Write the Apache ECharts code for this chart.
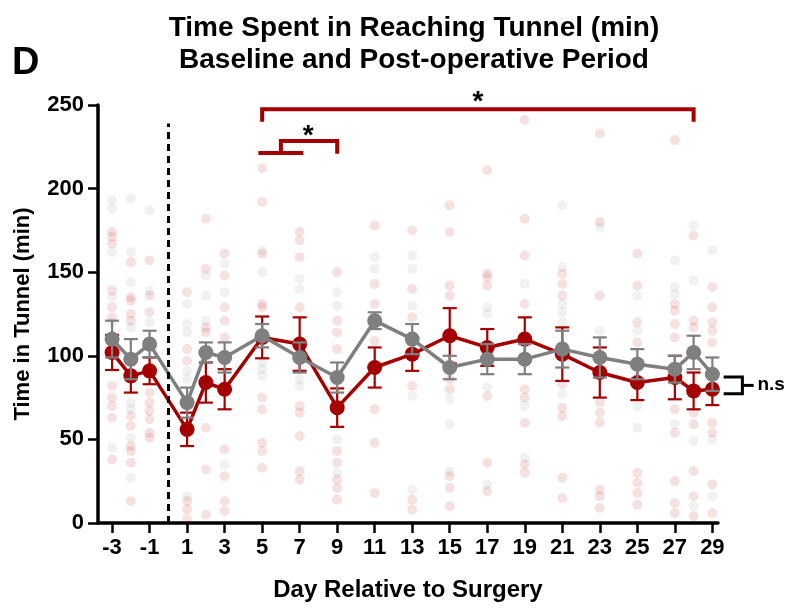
<!DOCTYPE html>
<html>
<head>
<meta charset="utf-8">
<script src="https://cdn.jsdelivr.net/npm/echarts@6/dist/echarts.min.js"></script>
<style>
  html, body { margin: 0; padding: 0; background: #fff; }
  #chart { width: 793px; height: 608px; }
</style>
</head>
<body>
<div id="chart"></div>
<script>
// Days relative to surgery (day 0 = surgery)
const days = [-3, -2, -1, 1, 2, 3, 5, 7, 9, 11, 13, 15, 17, 19, 21, 23, 25, 27, 28, 29];
const dayTicks = [-3, -1, 1, 3, 5, 7, 9, 11, 13, 15, 17, 19, 21, 23, 25, 27, 29];
const yTicks = [0, 50, 100, 150, 200, 250];

// Group means and SEM (minutes)
const redMean  = [102, 88, 91, 56, 84, 80, 111, 107, 69, 93, 101, 112, 105, 110, 101, 90, 84, 87, 79, 80];
const redSem   = [10.5, 10, 8, 10, 12, 12, 12.5, 16, 11.5, 12, 10, 16.5, 11, 13, 16, 15, 10.5, 13, 11, 9.5];
const grayMean = [110, 98, 107, 72, 102, 99, 112, 99, 87, 121, 110, 93, 98, 98, 104, 99, 95, 92, 102, 89];
const graySem  = [11, 12, 8, 9, 6, 9, 7, 9, 9, 5, 9, 7, 9, 9, 11, 12, 9, 8, 10, 10];

// Individual animals, one list per day (same order as `days`)
const redDots = [
  [174, 171, 167, 139, 129, 123, 82, 75, 70, 63, 38],
  [156, 135, 133, 125, 121, 64, 58, 46, 43, 36, 13],
  [157, 136, 126, 78, 72, 67, 62, 54, 51],
  [138, 104, 97, 13, 8, 2],
  [182, 152, 117, 114, 57, 32, 5],
  [161, 148, 129, 121, 111, 44, 28, 13, 7],
  [212, 192, 161, 131, 129, 75, 68, 48, 43, 33],
  [174, 169, 159, 129, 70, 66, 52, 31, 26],
  [150, 121, 114, 104, 43, 36, 26, 21, 14],
  [178, 143, 131, 109, 68, 48, 18],
  [175, 140, 123, 82, 14, 8],
  [190, 174, 142, 136, 86, 80, 28, 21, 10],
  [211, 149, 147, 142, 76, 36, 19],
  [241, 182, 160, 131, 80, 75, 60, 35, 30],
  [149, 143, 136, 83, 69, 64, 27, 15],
  [233, 180, 136, 72, 66, 60, 20, 16, 9],
  [161, 142, 120, 108, 30, 24, 18, 11],
  [229, 131, 127, 119, 111, 68, 54, 25, 12, 6],
  [172, 121, 117, 66, 59, 31, 16, 4],
  [141, 129, 120, 115, 108, 60, 54, 23, 6]
];
const grayDots = [
  [193, 188, 162, 135, 120, 45],
  [194, 162, 144, 117, 72, 68, 51, 27],
  [187, 139, 120],
  [131, 119, 114, 91, 86, 16],
  [148, 136, 121],
  [155, 138, 35],
  [163, 150, 96, 92, 88],
  [146, 140, 92, 86, 82],
  [138, 130, 50, 30],
  [159, 152],
  [160, 152, 130, 76, 20],
  [74, 59, 31],
  [129, 125, 81, 23],
  [143, 70, 39],
  [190, 153, 131, 126, 120, 77],
  [177, 115],
  [136, 115, 70, 57],
  [157, 141, 137, 59],
  [178, 145, 49, 10],
  [163, 50, 16]
];

const RED = '#a50000';
const GRAY = '#7f7f7f';
const FONT = '"Liberation Sans", Arial, Helvetica, sans-serif';

// Surgery marker (day 0), drawn up to this height in minutes
const surgeryDay = 0;
const surgeryLineTop = 239;

// Significance brackets in data units (day, minutes)
const paths = [
  { pts: [[5, 240], [5, 247.5], [28, 247.5], [28, 240]], color: RED, width: 4 },  // day 5 vs day 28
  { pts: [[4.8, 221.3], [7.2, 221.3]], color: RED, width: 4 },                    // days 5-7
  { pts: [[6, 221.3], [6, 228.5], [9, 228.5], [9, 220.8]], color: RED, width: 4 },// vs day 9
  { pts: [[29.6, 87.3], [30.6, 87.3], [30.6, 77.3], [29.6, 77.3]], color: '#000', width: 3 },
  { pts: [[30.6, 82.3], [31.2, 82.3]], color: '#000', width: 3 }
];
const notes = [
  { at: [16.5, 251.5], text: '*', size: 28, align: 'center' },
  { at: [7.45, 231.5], text: '*', size: 28, align: 'center' },
  { at: [31.4, 82.5], text: 'n.s', size: 19, align: 'left' }
];

function dotData(lists) {
  const out = [];
  lists.forEach((vals, i) => vals.forEach(v => out.push([days[i], v])));
  return out;
}
function pairs(mean) { return days.map((d, i) => [d, mean[i]]); }
function errData(mean, sem) { return days.map((d, i) => [d, mean[i] - sem[i], mean[i] + sem[i]]); }

function errorBars(color) {
  return function (params, api) {
    const x = api.value(0);
    const lo = api.coord([x, api.value(1)]);
    const hi = api.coord([x, api.value(2)]);
    const w = 7;
    const style = { stroke: color, lineWidth: 2.2 };
    return {
      type: 'group',
      children: [
        { type: 'line', shape: { x1: lo[0], y1: lo[1], x2: hi[0], y2: hi[1] }, style },
        { type: 'line', shape: { x1: hi[0] - w, y1: hi[1], x2: hi[0] + w, y2: hi[1] }, style },
        { type: 'line', shape: { x1: lo[0] - w, y1: lo[1], x2: lo[0] + w, y2: lo[1] }, style }
      ]
    };
  };
}

function drawPath(params, api) {
  const p = paths[params.dataIndex];
  return {
    type: 'polyline',
    shape: { points: p.pts.map(pt => api.coord(pt)) },
    style: { stroke: p.color, lineWidth: p.width, lineCap: 'butt', lineJoin: 'miter', fill: null }
  };
}

function drawNote(params, api) {
  const n = notes[params.dataIndex];
  const c = api.coord(n.at);
  return {
    type: 'text', x: c[0], y: c[1],
    style: {
      text: n.text, fill: '#000', align: n.align, verticalAlign: 'middle',
      font: 'bold ' + n.size + 'px ' + FONT
    }
  };
}

const chart = echarts.init(document.getElementById('chart'), null, { renderer: 'canvas' });
chart.setOption({
  animation: false,
  backgroundColor: '#fff',
  textStyle: { fontFamily: FONT },
  title: {
    text: 'Time Spent in Reaching Tunnel (min)\nBaseline and Post-operative Period',
    left: 409, top: 7, textAlign: 'center',
    textStyle: { fontFamily: FONT, fontSize: 28, fontWeight: 'bold', color: '#000', lineHeight: 32 }
  },
  graphic: [{
    type: 'text', left: 12, top: 45,
    style: { text: 'D', fontFamily: FONT, fontSize: 38, fontWeight: 'bold', fill: '#000' }
  }],
  grid: { left: 98, right: 75, top: 105, bottom: 85, containLabel: false },
  xAxis: {
    type: 'value', min: -3.75, max: 29.3,
    name: 'Day Relative to Surgery', nameLocation: 'middle', nameGap: 55,
    nameTextStyle: { fontFamily: FONT, fontSize: 24, fontWeight: 'bold', color: '#000' },
    axisLine: { onZero: false, lineStyle: { color: '#000', width: 3.5 } },
    axisTick: { customValues: dayTicks, length: 10, lineStyle: { color: '#000', width: 2.5 } },
    axisLabel: { customValues: dayTicks, fontFamily: FONT, fontSize: 22, fontWeight: 'bold', color: '#000', margin: 14 },
    splitLine: { show: false }
  },
  yAxis: {
    type: 'value', min: yTicks[0], max: yTicks[yTicks.length - 1], interval: 50,
    name: 'Time in Tunnel (min)', nameLocation: 'middle', nameGap: 64, nameRotate: 90,
    nameTextStyle: { fontFamily: FONT, fontSize: 22, fontWeight: 'bold', color: '#000' },
    axisLine: { show: true, onZero: false, lineStyle: { color: '#000', width: 3.5 } },
    axisTick: { show: true, length: 10, lineStyle: { color: '#000', width: 2.5 } },
    axisLabel: { fontFamily: FONT, fontSize: 22, fontWeight: 'bold', color: '#000', margin: 14 },
    splitLine: { show: false }
  },
  series: [
    {
      name: 'gray animals', type: 'scatter', data: dotData(grayDots), symbolSize: 10, z: 1,
      itemStyle: { color: 'rgba(128,128,128,0.14)' }, silent: true
    },
    {
      name: 'red animals', type: 'scatter', data: dotData(redDots), symbolSize: 10, z: 1,
      itemStyle: { color: 'rgba(176,0,0,0.15)' }, silent: true
    },
    {
      name: 'annotation paths', type: 'custom', renderItem: drawPath, clip: false, silent: true, z: 6,
      data: paths.map((p, i) => [i])
    },
    {
      name: 'red sem', type: 'custom', renderItem: errorBars(RED), data: errData(redMean, redSem), z: 3
    },
    {
      name: 'red mean', type: 'line', data: pairs(redMean), z: 3,
      symbol: 'circle', symbolSize: 15, showAllSymbol: true,
      lineStyle: { color: RED, width: 3.5 }, itemStyle: { color: RED }
    },
    {
      name: 'gray sem', type: 'custom', renderItem: errorBars(GRAY), data: errData(grayMean, graySem), z: 4
    },
    {
      name: 'gray mean', type: 'line', data: pairs(grayMean), z: 4,
      symbol: 'circle', symbolSize: 15, showAllSymbol: true,
      lineStyle: { color: GRAY, width: 3.5 }, itemStyle: { color: GRAY },
      markLine: {
        silent: true, symbol: ['none', 'none'], animation: false,
        label: { show: false },
        lineStyle: { color: '#000', width: 3, type: [7, 5] },
        emphasis: { disabled: true },
        data: [[{ coord: [surgeryDay, 0] }, { coord: [surgeryDay, surgeryLineTop] }]]
      }
    },
    {
      name: 'notes', type: 'custom', renderItem: drawNote, clip: false, silent: true, z: 7,
      data: notes.map((n, i) => [i])
    }
  ]
});
</script>
</body>
</html>
